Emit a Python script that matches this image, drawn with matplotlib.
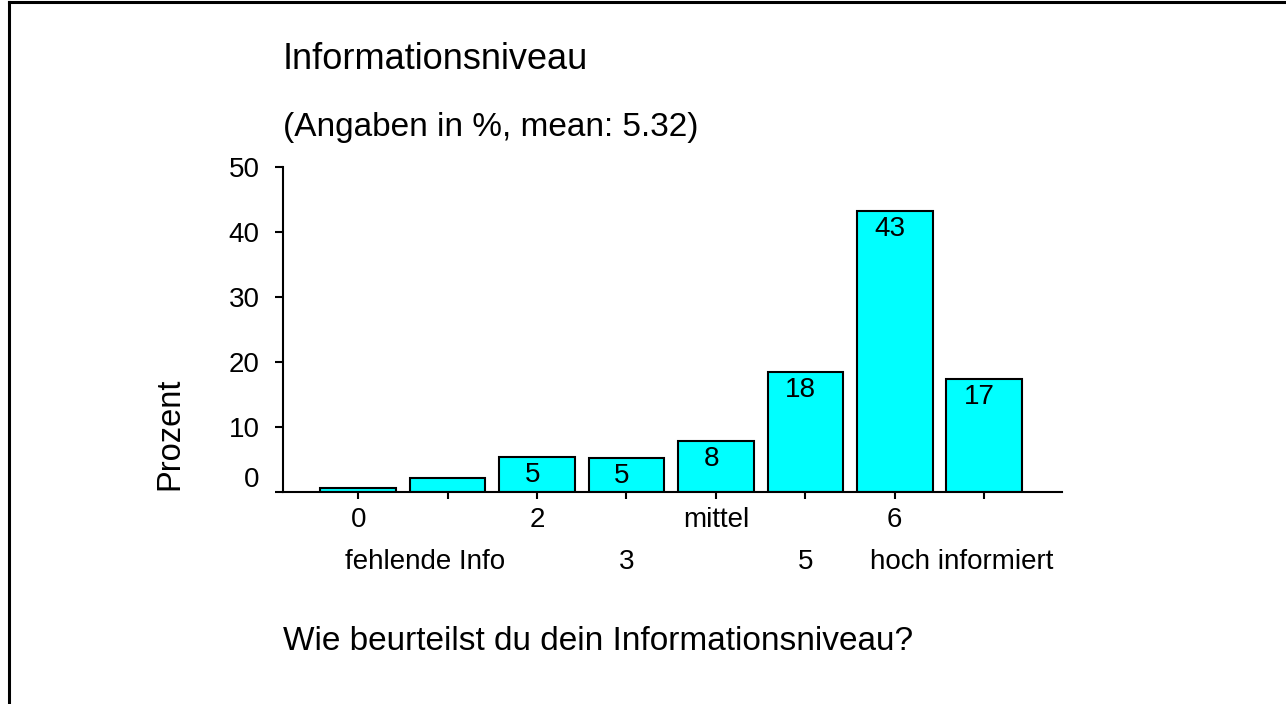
import matplotlib
matplotlib.use('Agg')
import matplotlib.pyplot as plt
from matplotlib.lines import Line2D

plt.rcParams['font.family'] = ['Liberation Sans', 'DejaVu Sans']

# Data
values = [0.6, 2.2, 5.4, 5.2, 7.9, 18.5, 43.3, 17.4]
value_labels = ['', '', '5', '5', '8', '18', '43', '17']
row1_labels = {0: '0', 2: '2', 4: 'mittel', 6: '6'}
row2_labels = {1: 'fehlende Info', 3: '3', 5: '5', 7: 'hoch informiert'}
yticks = [0, 10, 20, 30, 40, 50]

title = 'Informationsniveau'
subtitle = '(Angaben in %, mean: 5.32)'
question = 'Wie beurteilst du dein Informationsniveau?'

fig = plt.figure(figsize=(12.86, 7.04), dpi=100)
ax = fig.add_axes([0.2201, 0.3011, 0.6057, 0.4617])

x = list(range(len(values)))
ax.bar(x, values, width=0.845, color='#00FFFF', edgecolor='black', linewidth=1.5, zorder=2)

# value labels just inside the bar tops
for xi, v, lab in zip(x, values, value_labels):
    if lab:
        ax.annotate(lab, (xi, v), xytext=(-3.2, -13), textcoords='offset points',
                    ha='center', va='center', fontsize=20)

ax.set_xlim(-0.84, 7.87)
ax.set_ylim(0, 50)
ax.set_yticks(yticks)
# the zero label sits a bit above its tick, drawn separately below
ax.set_yticklabels(['' if t == 0 else str(t) for t in yticks], fontsize=20)
ax.set_xticks(x)
ax.set_xticklabels([])
ax.tick_params(axis='y', length=6, width=1.5, pad=11)
ax.tick_params(axis='x', length=5, width=1.5)
ax.annotate('0', (0, 1.85), xycoords=ax.get_yaxis_transform(), xytext=(-17, 0),
            textcoords='offset points', ha='right', va='center', fontsize=20)

for s in ['top', 'right']:
    ax.spines[s].set_visible(False)
ax.spines['left'].set_linewidth(1.5)
ax.spines['bottom'].set_linewidth(1.5)

# staggered category labels
trans = ax.get_xaxis_transform()
for i, lab in row1_labels.items():
    ax.text(i, -0.086, lab, transform=trans, ha='center', va='center', fontsize=20)
for i, lab in row2_labels.items():
    shift = -0.25 if len(lab) > 2 else 0
    ax.text(i + shift, -0.215, lab, transform=trans, ha='center', va='center', fontsize=20)

fig.text(170 / 1286, 1 - 434 / 704, 'Prozent', rotation=90, ha='center', va='center', fontsize=23.5)

fig.text(0.2201, 1 - 69 / 704, title, ha='left', va='baseline', fontsize=26)
fig.text(0.2201, 1 - 136 / 704, subtitle, ha='left', va='baseline', fontsize=24)
fig.text(0.2201, 1 - 650 / 704, question, ha='left', va='baseline', fontsize=24)

# frame lines along top and left edge
fig.add_artist(Line2D([9 / 1286, 1], [1 - 2 / 704, 1 - 2 / 704], transform=fig.transFigure,
                      color='black', linewidth=2.2))
fig.add_artist(Line2D([9 / 1286, 9 / 1286], [0, 1 - 2 / 704], transform=fig.transFigure,
                      color='black', linewidth=2.2))

fig.savefig('out.png', dpi=100, facecolor='white')
